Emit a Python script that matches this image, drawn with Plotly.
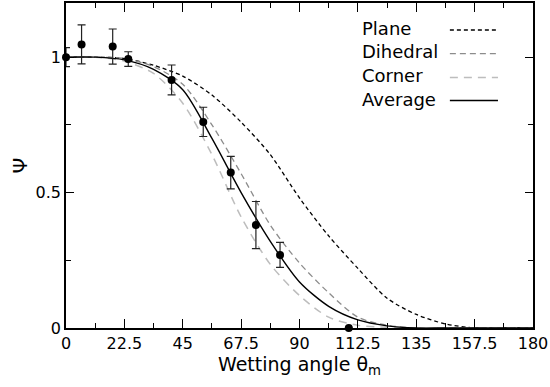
import plotly.graph_objects as go

# ---- data ----
grid = [0, 11.25, 22.5, 33.75, 45, 56.25, 67.5, 78.75, 90, 101.25, 112.5, 123.75, 135, 146.25, 157.5, 168.75, 180]
plane = [1.0, 1.0, 0.995, 0.97, 0.93, 0.86, 0.76, 0.64, 0.48, 0.34, 0.22, 0.11, 0.05, 0.015, 0.0, 0.0, 0.0]
dihedral = [1.0, 1.0, 0.995, 0.965, 0.90, 0.75, 0.57, 0.38, 0.24, 0.13, 0.04, 0.01, 0.0, 0.0, 0.0, 0.0, 0.0]
corner = [1.0, 1.0, 0.985, 0.94, 0.83, 0.64, 0.41, 0.235, 0.12, 0.04, 0.01, 0.003, 0.0, 0.0, 0.0, 0.0, 0.0]
average = [1.0, 1.0, 0.99, 0.955, 0.88, 0.70, 0.50, 0.32, 0.17, 0.08, 0.03, 0.008, 0.0, 0.0, 0.0, 0.0, 0.0]

pts_x = [0, 6, 18, 24, 40.7, 52.9, 63.5, 73.2, 82.5, 109]
pts_y = [1.0, 1.047, 1.039, 0.993, 0.916, 0.761, 0.574, 0.380, 0.270, 0.0]
pts_err = [0.035, 0.072, 0.065, 0.027, 0.055, 0.054, 0.06, 0.087, 0.046, 0.0]

x_tickvals = [0, 22.5, 45, 67.5, 90, 112.5, 135, 157.5, 180]
x_ticktext = ["0", "22.5", "45", "67.5", "90", "112.5", "135", "157.5", "180"]
y_tickvals = [0, 0.5, 1]
y_ticktext = ["0", "0.5", "1"]

legend_names = ["Plane", "Dihedral", "Corner", "Average"]
styles = [
    dict(color="black", width=1.3, dash="4px,3px"),
    dict(color="#8c8c8c", width=1.3, dash="6px,4px"),
    dict(color="#bdbdbd", width=1.5, dash="8px,6px"),
    dict(color="black", width=1.4, dash="solid"),
]
series = [plane, dihedral, corner, average]

FONT = "DejaVu Sans"

fig = go.Figure()
for name, ys, st in zip(legend_names, series, styles):
    fig.add_trace(go.Scatter(x=grid, y=ys, mode="lines", name=name,
                             line=dict(shape="spline", smoothing=0.8, **st),
                             showlegend=False))

fig.add_trace(go.Scatter(x=pts_x, y=pts_y, mode="markers",
                         marker=dict(color="black", size=8),
                         error_y=dict(type="data", array=pts_err, visible=True,
                                      color="#222", thickness=1.2, width=4),
                         cliponaxis=False, showlegend=False))

# manual legend: text on the left, line sample on the right
text_y = [0.921, 0.850, 0.777, 0.704]
line_y = [0.917, 0.844, 0.771, 0.700]
for name, st, ty, ly in zip(legend_names, styles, text_y, line_y):
    fig.add_annotation(x=0.6296, y=ty, xref="paper", yref="paper", text=name,
                       showarrow=False, xanchor="left", yanchor="middle",
                       font=dict(family=FONT, size=18, color="black"))
    fig.add_shape(type="line", xref="paper", yref="paper",
                  x0=0.822, x1=0.925, y0=ly, y1=ly,
                  line=dict(color=st["color"], width=st["width"], dash=st["dash"]))

axis_common = dict(showline=True, linecolor="black", linewidth=1.5, mirror="ticks",
                   ticks="inside", tickcolor="black", tickwidth=1, showgrid=False,
                   zeroline=False, tickfont=dict(family=FONT, size=16, color="black"))

fig.update_xaxes(range=[0, 180], tickvals=x_tickvals, ticktext=x_ticktext, ticklen=9,
                 minor=dict(dtick=11.25, tick0=0, ticks="inside", ticklen=5, tickcolor="black", showgrid=False),
                 title=dict(text="Wetting angle θ<sub>m</sub>", standoff=4,
                            font=dict(family=FONT, size=19, color="black")),
                 **axis_common)
fig.update_yaxes(range=[0, 1.2], tickvals=y_tickvals, ticktext=y_ticktext, ticklen=8,
                 minor=dict(dtick=0.25, tick0=0, ticks="inside", ticklen=5, tickcolor="black", showgrid=False),
                 title=dict(text="Ψ", standoff=3,
                            font=dict(family=FONT, size=20, color="black")),
                 **axis_common)

fig.update_layout(width=550, height=387, margin=dict(l=66, r=17, t=1, b=59),
                  plot_bgcolor="white", paper_bgcolor="white")

fig.write_html("out.html")
